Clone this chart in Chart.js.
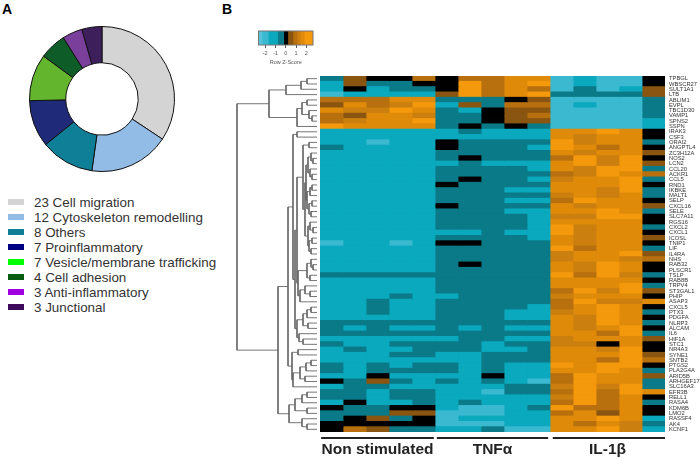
<!DOCTYPE html>
<html>
<head>
<meta charset="utf-8">
<title>Gene categories and heatmap</title>
<script src="https://cdn.jsdelivr.net/npm/chart.js@4"></script>
<style>
  html, body { margin: 0; padding: 0; background: #fff; }
  body { position: relative; width: 700px; height: 459px; overflow: hidden; font-family: "Liberation Sans", Arial, sans-serif; }
  canvas { position: absolute; }
  .panel { position: absolute; top: 1px; font-size: 14px; font-weight: bold; color: #000; }
  #legend { position: absolute; left: 8px; top: 195px; }
  .item { height: 15px; line-height: 15px; font-size: 13.4px; color: #333; white-space: nowrap; }
  .item i { display: inline-block; width: 16px; height: 6px; margin-right: 10px; vertical-align: 2px; }
</style>
</head>
<body>
<div class="panel" style="left:2px">A</div>
<div class="panel" style="left:222px">B</div>
<canvas id="donut" width="146" height="146" style="left:29px;top:26px"></canvas>
<div id="legend"></div>
<canvas id="key" width="80" height="41" style="left:246px;top:25px"></canvas>
<canvas id="tree" width="85" height="356" style="left:235px;top:76px"></canvas>
<canvas id="heat" width="380" height="383" style="left:320px;top:76px"></canvas>
<script>
// Panel A
const categoryNames = ["Cell migration", "Cytoskeleton remodelling", "Others", "Proinflammatory", "Vesicle/membrane trafficking", "Cell adhesion", "Anti-inflammatory", "Junctional"];
const categoryCounts = [23, 12, 8, 7, 7, 4, 3, 3];
const sliceColours = ["#d4d4d4", "#92bbe6", "#0e7f96", "#1f2a78", "#63b52e", "#0e5c28", "#7a3f9a", "#3d1f5c"];
const swatchColours = ["#d4d4d4", "#92bbe6", "#0e7f96", "#000080", "#00ff00", "#0a5c10", "#a000e0", "#3d0a5c"];

// Panel B
const groupNames = ["Non stimulated", "TNFα", "IL-1β"];
const groupSpans = [[0.05, 4.95], [5.08, 9.92], [10.12, 15]];
const keyTicks = [-2, -1, 0, 1, 2];
const zBreaks = [-2.65, -2.3, -1.7, -0.8, -0.2, 0.2, 0.7, 1.1, 1.4, 1.8, 2.65];
const zColours = ["#55c2da", "#3bb9d0", "#0aa9bd", "#0a7a88", "#000000", "#8a5510", "#b8700f", "#cb7f0e", "#e08a0a", "#f4980c"];

const genes = ["TPBGL", "WBSCR27", "SULT1A1", "LTB", "ABLIM1", "EVPL", "TBC1D30", "VAMP1", "SPNS2", "SSPN", "IRAK3", "CSF3", "ORAI2", "ANGPTL4", "ZC3H12A", "NOS2", "LCN2", "CCL20", "ACKR1", "CCL5", "RND1", "IKBKE", "MALT1", "SELP", "CXCL16", "SELE", "SLC7A11", "RGS16", "CXCL2", "CXCL1", "ICOSL", "TNIP1", "LIF", "IL4RA", "NHS", "RAB32", "PLSCR1", "TSLP", "RAB8B", "TRPV4", "ST3GAL1", "PHIP", "ASAP3", "CXCL5", "PTX3", "PDGFA", "NLRP3", "ALCAM", "IL6", "HIF1A", "STC1", "NR4A3", "SYNE1", "SNTB2", "PTGS2", "PLA2G4A", "ARID5B", "ARHGEF17", "SLC16A3", "EFR3B", "RELL1", "RASA4", "KDM6B", "LMO2", "RASSF4", "AK4", "KCNF1"];

// row z-scores: 5 non stimulated, 5 TNFa, 5 IL-1b
const zScores = [
  [-0.5,0.5,0,0,0.9, 0,0.9,0.9,1.6,1.6, -2,-1.2,-2,-2,0],
  [-1.2,0.5,-0.5,-0.5,0, 0,2,0.9,1.6,2, -2,-1.2,-2,-2,0],
  [-1.2,0,-1.2,-0.5,-0.5, 0,2,0.9,1.6,0.9, -2,-0.5,-2,-1.2,0.5],
  [-2,-1.2,-1.2,-1.2,-1.2, 0.5,2,0.9,1.6,2, -0.5,-0.5,-0.5,-0.5,0.5],
  [0.9,0.9,0.9,1.6,1.6, -0.5,-0.5,-0.5,0,0.5, -2,-2,-2,-2,-0.5],
  [0.5,1.6,0.9,1.25,2, -1.2,0.5,-0.5,0.9,0.9, -2,-1.2,-2,-2,-0.5],
  [1.6,1.25,1.25,2,1.6, -0.5,-1.2,0,0.5,0.5, -2,-2,-2,-2,-0.5],
  [0.9,0.5,1.6,1.6,1.25, -0.5,-0.5,0,0.5,0.9, -2,-2,-2,-2,-0.5],
  [0.9,1.25,1.6,1.6,2, -0.5,-0.5,0,0.5,0.5, -2,-2,-2,-2,-1.2],
  [2,1.6,1.6,1.6,1.6, -0.5,0,-0.5,0,-0.5, -2,-2,-2,-2,-1.2],
  [-1.2,-1.2,-1.2,-1.2,-1.2, -1.2,-0.5,-1.2,-1.2,-1.2, 1.6,1.6,2,1.6,0],
  [-1.2,-1.2,-1.2,-1.2,-1.2, -1.2,-1.2,-1.2,-1.2,-1.2, 1.6,1.25,1.6,1.6,0],
  [-1.2,-1.2,-2,-1.2,-1.2, 0,-0.5,-0.5,-0.5,-0.5, 2,1.25,1.6,1.6,-0.5],
  [-0.5,-1.2,-1.2,-1.2,-1.2, 0,-0.5,-0.5,-0.5,-1.2, 2,1.6,0.9,1.6,0],
  [-1.2,-1.2,-1.2,-1.2,-1.2, -0.5,-0.5,-0.5,-0.5,-0.5, 1.6,1.25,1.6,1.6,0.5],
  [-1.2,-1.2,-1.2,-1.2,-1.2, -0.5,0,-0.5,-0.5,-0.5, 0.9,2,1.25,2,0],
  [-1.2,-1.2,-1.2,-1.2,-1.2, -1.2,-0.5,-1.2,-1.2,-1.2, 1.6,2,1.25,2,0.5],
  [-1.2,-1.2,-1.2,-1.2,-1.2, -0.5,-0.5,-0.5,-0.5,-1.2, 1.6,1.25,2,2,-0.5],
  [-1.2,-1.2,-1.2,-1.2,-1.2, -0.5,-0.5,-0.5,-0.5,-0.5, 0.9,1.25,2,1.6,0.9],
  [-1.2,-1.2,-1.2,-1.2,-1.2, -0.5,0,-0.5,-0.5,-1.2, 1.25,1.6,1.6,2,-0.5],
  [-1.2,-1.2,-1.2,-1.2,-1.2, 0,-0.5,-0.5,-0.5,-0.5, 1.6,1.6,1.6,2,0],
  [-1.2,-1.2,-1.2,-1.2,-1.2, -0.5,-0.5,-0.5,-1.2,-1.2, 1.6,1.6,1.25,2,-0.5],
  [-1.2,-1.2,-1.2,-1.2,-1.2, -0.5,-0.5,-0.5,-0.5,-0.5, 1.25,1.6,1.25,1.6,-0.5],
  [-1.2,-1.2,-1.2,-1.2,-1.2, -0.5,-0.5,-0.5,-1.2,-1.2, 0.9,2,1.6,1.6,0],
  [-1.2,-1.2,-1.2,-1.2,-1.2, 0,-0.5,-0.5,-0.5,-0.5, 1.6,1.25,1.6,1.6,0.5],
  [-1.2,-1.2,-1.2,-1.2,-1.2, -0.5,-0.5,-0.5,-1.2,-1.2, 1.6,1.6,2,1.6,-0.5],
  [-1.2,-1.2,-1.2,-1.2,-1.2, -0.5,-0.5,-0.5,-0.5,-1.2, 1.25,1.25,2,2,0],
  [-1.2,-1.2,-1.2,-1.2,-1.2, -0.5,-0.5,-0.5,-0.5,-1.2, 1.6,1.6,1.6,1.6,0],
  [-1.2,-1.2,-1.2,-1.2,-1.2, -0.5,-0.5,-0.5,-0.5,-1.2, 2,1.25,1.6,1.6,-0.5],
  [-1.2,-1.2,-1.2,-1.2,-1.2, -1.2,-1.2,-0.5,-1.2,-1.2, 2,1.25,1.6,1.6,0],
  [-1.2,-1.2,-1.2,-1.2,-1.2, -0.5,-0.5,-0.5,-0.5,-1.2, 1.6,1.25,1.6,1.6,0.5],
  [-2,-1.2,-1.2,-2,-1.2, 0,0,-0.5,-0.5,-0.5, 1.6,1.25,1.6,1.6,0],
  [-1.2,-1.2,-1.2,-1.2,-1.2, -0.5,-0.5,-0.5,-0.5,-0.5, 2,0.9,1.6,1.6,-0.5],
  [-1.2,-1.2,-1.2,-1.2,-1.2, -0.5,-0.5,-0.5,-0.5,-0.5, 1.25,1.6,1.6,2,0.5],
  [-1.2,-1.2,-1.2,-1.2,-1.2, -0.5,-0.5,-0.5,-0.5,-0.5, 1.25,1.6,1.6,1.25,0.9],
  [-1.2,-1.2,-1.2,-1.2,-1.2, -0.5,0,-0.5,-0.5,-0.5, 1.6,1.25,2,1.6,0],
  [-1.2,-1.2,-1.2,-1.2,-1.2, -0.5,-0.5,-0.5,-0.5,-0.5, 1.6,1.25,2,1.6,0],
  [-0.5,-0.5,-0.5,-0.5,-0.5, -0.5,-0.5,-0.5,-0.5,-0.5, 2,0.9,2,1.25,-0.5],
  [-1.2,-1.2,-1.2,-1.2,-1.2, -0.5,-0.5,-0.5,-0.5,-0.5, 1.6,1.6,1.6,1.6,0],
  [-1.2,-1.2,-1.2,-1.2,-1.2, -0.5,-0.5,-0.5,-0.5,-0.5, 1.6,1.6,1.6,2,-0.5],
  [-1.2,-1.2,-1.2,-1.2,-1.2, -0.5,-0.5,-0.5,-0.5,-0.5, 0.9,2,1.25,2,0.5],
  [-1.2,-1.2,-1.2,-0.5,-1.2, -1.2,-0.5,-0.5,-0.5,-0.5, 1.25,1.6,1.6,1.6,0],
  [-1.2,-1.2,-0.5,-1.2,-1.2, -0.5,-0.5,-0.5,-0.5,-0.5, 0.9,2,1.25,1.25,1.6],
  [-1.2,-1.2,-0.5,-1.2,-1.2, -0.5,-0.5,-0.5,-0.5,-1.2, 0.9,1.6,2,1.6,0],
  [-1.2,-1.2,-0.5,-1.2,-1.2, -0.5,-0.5,-0.5,-1.2,-1.2, 1.25,1.6,2,1.6,-0.5],
  [-1.2,-1.2,-1.2,-1.2,-1.2, -0.5,-0.5,-0.5,-1.2,-1.2, 1.6,1.25,2,1.6,0],
  [-0.5,-0.5,-0.5,-0.5,-0.5, -0.5,-0.5,-0.5,-0.5,-0.5, 1.6,1.25,2,1.6,-0.5],
  [-0.5,-1.2,-0.5,-1.2,-1.2, -0.5,-1.2,-0.5,-1.2,-1.2, 1.6,1.25,1.6,2,0],
  [-0.5,-0.5,-0.5,-0.5,-0.5, -0.5,-0.5,-0.5,-0.5,-0.5, 1.6,1.6,0.9,2,-0.5],
  [-1.2,-1.2,-1.2,-1.2,-1.2, -1.2,-0.5,-0.5,-1.2,-1.2, 1.25,1.6,1.6,1.6,0.5],
  [-0.5,-1.2,-1.2,-0.5,-0.5, -0.5,-0.5,-1.2,-0.5,-0.5, 1.25,1.25,0,1.6,0],
  [-1.2,-0.5,-1.2,-1.2,-0.5, -0.5,-0.5,-1.2,-1.2,-0.5, 1.6,1.6,1.25,2,0],
  [-1.2,-1.2,-1.2,-0.5,-0.5, -1.2,-1.2,-0.5,-0.5,-0.5, 1.6,1.6,1.6,2,0.5],
  [-1.2,-1.2,-1.2,-1.2,-1.2, -1.2,-1.2,-0.5,-0.5,-0.5, 1.6,1.6,0.9,2,0.9],
  [-0.5,-1.2,-0.5,-1.2,-0.5, -0.5,-1.2,-0.5,-1.2,-1.2, 2,1.6,2,2,0],
  [-0.5,-1.2,-0.5,-0.5,-0.5, -0.5,-1.2,-0.5,-1.2,-1.2, 1.6,1.6,2,1.6,-0.5],
  [-1.2,-1.2,0,-1.2,-1.2, -1.2,-1.2,0,-1.2,-1.2, 0.9,2,1.6,1.6,0.5],
  [0,-0.5,0.5,-0.5,-1.2, -0.5,-1.2,-0.5,-1.2,-2, 0.9,2,1.6,1.6,-0.5],
  [-1.2,-0.5,-0.5,-1.2,-1.2, -1.2,-1.2,-1.2,-0.5,-0.5, 1.25,2,1.25,2,-0.5],
  [-0.5,-0.5,-1.2,-0.5,-0.5, -1.2,-1.2,-2,-0.5,-0.5, 0.9,2,0.9,2,1.6],
  [-0.5,-0.5,-1.2,-0.5,-0.5, -1.2,-1.2,-1.2,-1.2,-1.2, 1.25,2,0.9,1.6,0],
  [-1.2,0,-1.2,-1.2,-0.5, -1.2,-0.5,-1.2,-1.2,-1.2, 0.9,2,0.9,1.6,-0.5],
  [0,-0.5,-0.5,0,0, -1.2,-2,-2,-1.2,-0.5, 2,0.9,0.9,1.6,0],
  [-0.5,-0.5,-0.5,0.5,0.5, -2,-2,-2,-1.2,-1.2, 0.9,1.6,0.5,1.6,0],
  [-0.5,0,0.5,-0.5,0, -2,-1.2,-1.2,-1.2,-1.2, 1.6,1.6,2,1.6,-1.2],
  [0,0,0,0,0, -2,-2,-2,-1.2,-1.2, 1.6,0.9,1.6,1.25,-0.5],
  [0,0.9,0.5,-0.5,-0.5, -1.2,-1.2,-0.5,-2,-2, 1.6,1.6,2,1.25,-1.2]
];

// row clustering: [merge height, upper branch, lower branch], a bare number is a row index
const rowTree = [80,
  [48,
    [31, [16, [10, 0, 1], 2], 3],
    [20, [15, [10, 4, 5], [8, 6, [5, 7, 8]]], 9]],
  [39,
    [29,
      [24,
        [20, 10, 11],
        [22,
          [20,
            [14, [8, 12, 13],
              [12,
                [11, [9, [6, 14, [4, 15, 16]], [7, 17, [5, 18, 19]]], [10, [7, [5, 20, 21], 22], [8, [5, 23, 24], [6, 25, 26]]]],
                [9, [7, 27, [4, 28, 29]], [8, [5, 30, 31], [6, 32, 33]]]]],
            [19, [10, [6, 34, [4, 35, 36]], [7, 37, 38]], [17, [12, 39, [7, 40, 41]], 42]]],
          [20, [14, [10, [6, 43, 44], 45], [9, 46, 47]], [18, 48, [14, 49, 50]]]]],
      [25, [19, 51, 52], [24, [17, [11, [6, 53, 54], 55], [12, 56, 57]], 58]]],
    [28,
      [22, [15, [10, 59, 60], 61], [10, 62, 63]],
      [15, 64, [10, 65, 66]]]]];

const colourForZ = (z) => {
  const bin = zBreaks.findIndex((b, i) => z >= b && z < zBreaks[i + 1]);
  return zColours[bin];
};

Chart.defaults.font.family = '"Liberation Sans", Arial, sans-serif';
Chart.defaults.animation = false;
Chart.defaults.responsive = false;
Chart.defaults.devicePixelRatio = 1;
Chart.defaults.plugins.legend.display = false;
Chart.defaults.plugins.tooltip.enabled = false;

// Donut
new Chart(document.getElementById("donut"), {
  type: "doughnut",
  data: {
    labels: categoryNames,
    datasets: [{
      data: categoryCounts,
      backgroundColor: sliceColours,
      borderColor: "#111",
      borderWidth: 1,
    }],
  },
  options: { cutout: "50%", layout: { padding: 0 } },
});

// legend is plain html because its swatches differ from the slices
document.getElementById("legend").innerHTML = categoryNames
  .map((name, i) => `<div class="item"><i style="background:${swatchColours[i]}"></i>${categoryCounts[i]} ${name}</div>`)
  .join("");

// Colour key, one floating bar per colour bin
new Chart(document.getElementById("key"), {
  type: "bar",
  data: {
    labels: ["key"],
    datasets: zColours.map((colour, i) => ({
      data: [[zBreaks[i], zBreaks[i + 1]]],
      backgroundColor: colour,
      grouped: false,
      barPercentage: 1,
      categoryPercentage: 1,
    })),
  },
  options: {
    indexAxis: "y",
    layout: { padding: { left: 12.5, right: 13, top: 6 } },
    scales: {
      x: {
        type: "linear",
        min: -2.65,
        max: 2.65,
        afterBuildTicks: (scale) => { scale.ticks = keyTicks.map((value) => ({ value })); },
        afterFit: (scale) => { scale.height = 21; scale.paddingLeft = 0; scale.paddingRight = 0; },
        grid: { drawOnChartArea: false, tickLength: 3, tickColor: "#555" },
        border: { display: false },
        ticks: { font: { size: 5.5 }, color: "#555", padding: 2, maxRotation: 0 },
        title: { display: true, text: "Row Z-Score", font: { size: 5.5 }, color: "#555", padding: { top: 1, bottom: 0 } },
      },
      y: { display: false },
    },
  },
  plugins: [{
    id: "keyFrame",
    afterDatasetsDraw(chart) {
      const { ctx, chartArea: a } = chart;
      ctx.save();
      ctx.strokeStyle = "#777";
      ctx.lineWidth = 1;
      ctx.strokeRect(a.left, a.top, a.right - a.left, a.bottom - a.top);
      ctx.restore();
    },
  }],
});

// Dendrogram, walks rowTree and makes one elbow per merge
const elbows = [];
const walkTree = (node) => {
  if (typeof node === "number") return { height: 0, row: node + 0.5 };
  const upper = walkTree(node[1]);
  const lower = walkTree(node[2]);
  elbows.push([
    { x: upper.height, y: upper.row },
    { x: node[0], y: upper.row },
    { x: node[0], y: lower.row },
    { x: lower.height, y: lower.row },
  ]);
  return { height: node[0], row: (upper.row + lower.row) / 2 };
};
walkTree(rowTree);

new Chart(document.getElementById("tree"), {
  type: "scatter",
  data: {
    datasets: elbows.map((points) => ({
      data: points,
      showLine: true,
      borderColor: "#666",
      borderWidth: 0.9,
      pointRadius: 0,
      clip: false,
    })),
  },
  options: {
    layout: { padding: { right: 3 } },
    scales: {
      x: { display: false, min: 0, max: 82, reverse: true },
      y: { display: false, min: 0, max: genes.length, reverse: true },
    },
  },
});

// Heatmap, one stacked dataset per column with one unit wide cell per gene
const columnCount = zScores[0].length;
new Chart(document.getElementById("heat"), {
  type: "bar",
  data: {
    labels: genes,
    datasets: Array.from({ length: columnCount }, (_, col) => ({
      data: genes.map(() => 1),
      backgroundColor: zScores.map((row) => colourForZ(row[col])),
      barPercentage: 1,
      categoryPercentage: 1,
      inflateAmount: 0.4,
    })),
  },
  options: {
    indexAxis: "y",
    scales: {
      x: {
        type: "linear",
        stacked: true,
        min: 0,
        max: columnCount,
        afterBuildTicks: (scale) => {
          scale.ticks = groupSpans.map((s, i) => ({ value: 2.5 + i * 5 }));
        },
        afterFit: (scale) => { scale.height = 27; scale.paddingLeft = 0; scale.paddingRight = 0; },
        grid: { display: false, drawTicks: false },
        border: { display: false },
        ticks: {
          callback: (value) => groupNames[(value - 2.5) / 5],
          font: { size: 15.5, weight: "bold" },
          color: "#222",
          padding: 8,
          maxRotation: 0,
        },
      },
      y: {
        position: "right",
        stacked: true,
        afterFit: (scale) => { scale.width = 35; scale.paddingTop = 0; scale.paddingBottom = 0; },
        grid: { display: false, drawTicks: false },
        border: { display: false },
        ticks: {
          autoSkip: false,
          font: { size: 5.8 },
          color: "#333",
          padding: 4,
          crossAlign: "near",
        },
      },
    },
  },
  plugins: [{
    id: "groupBars",
    afterDraw(chart) {
      const { ctx, scales, chartArea } = chart;
      ctx.save();
      ctx.fillStyle = "#222";
      groupSpans.forEach(([from, to]) => {
        const left = scales.x.getPixelForValue(from);
        ctx.fillRect(left, chartArea.bottom + 5, scales.x.getPixelForValue(to) - left, 2);
      });
      ctx.restore();
    },
  }],
});
</script>
</body>
</html>
